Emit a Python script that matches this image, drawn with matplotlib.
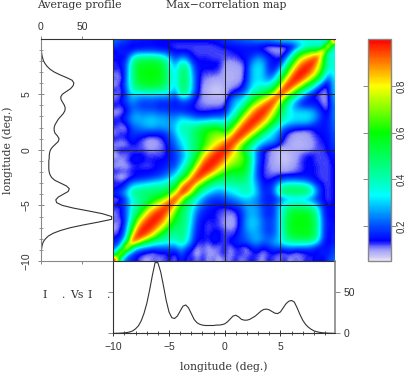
import numpy as np
import matplotlib
matplotlib.use("Agg")
import matplotlib.pyplot as plt
from matplotlib.colors import LinearSegmentedColormap

W, H = 406, 374

# average profile, every 0.25 deg from -10 to 10
longitude = np.arange(81) * 0.25 - 10
avg_profile = [0, 0, 0.1, 0.3, 0.5, 1, 1.7, 3, 5.5, 9, 15, 24, 36, 52, 70, 86, 86, 75, 58, 40,
               26, 19, 18, 21, 27, 33, 34.5, 31, 24, 17, 13, 11, 10, 9.5, 9.5, 9.5, 9.5, 10, 10, 10.5,
               11.5, 14, 17.5, 21, 22, 20, 17, 16, 16, 17, 19, 21, 24, 27, 29, 29.5, 28.5, 26.5, 24.5, 24,
               26, 31, 36, 39, 40, 38, 31, 23, 16, 11, 7.5, 5, 3, 2, 1.2, 0.7, 0.4, 0.2, 0.1, 0, 0]

# upper triangle of the correlation map in percent, one row per 0.5 deg of y
map_rows = [
    [100, 32, 20, 16, 13, 10, 9, 12, 10, 12, 14, 10, 18, 12, 14, 10, 14, 9, 12, 8, 12, 10, 14, 10, 12, 14, 12, 9, 14, 12, 10, 14, 9, 12, 10, 14, 12, 16, 12, 18, 22],
    [100, 36, 22, 16, 14, 12, 10, 14, 12, 16, 12, 22, 14, 12, 8, 12, 10, 9, 12, 14, 9, 12, 14, 10, 12, 14, 10, 12, 14, 12, 10, 14, 9, 12, 12, 15, 12, 18, 14, 20],
    [100, 52, 32, 26, 24, 22, 22, 22, 22, 22, 30, 22, 15, 10, 12, 9, 12, 10, 14, 10, 14, 12, 10, 16, 18, 14, 16, 20, 20, 22, 24, 24, 22, 22, 20, 16, 14, 15, 18],
    [100, 84, 66, 52, 42, 38, 36, 34, 34, 42, 34, 22, 12, 14, 12, 15, 14, 12, 14, 16, 18, 20, 24, 26, 22, 22, 26, 30, 38, 40, 42, 42, 42, 40, 32, 18, 12, 16],
    [100, 94, 84, 70, 54, 46, 42, 42, 46, 38, 24, 14, 14, 13, 15, 14, 12, 13, 14, 18, 22, 26, 28, 24, 20, 22, 28, 42, 52, 54, 56, 56, 54, 42, 22, 13, 16],
    [100, 96, 88, 74, 58, 48, 44, 48, 40, 26, 15, 14, 12, 14, 14, 12, 11, 12, 18, 24, 28, 26, 22, 18, 20, 28, 44, 55, 58, 58, 58, 55, 44, 22, 13, 15],
    [100, 96, 88, 76, 60, 50, 48, 42, 28, 16, 14, 12, 13, 12, 10, 9, 10, 16, 26, 30, 28, 22, 18, 20, 28, 46, 56, 58, 60, 58, 56, 44, 22, 14, 15],
    [100, 96, 86, 72, 56, 50, 44, 30, 18, 14, 13, 14, 12, 10, 9, 10, 16, 26, 30, 28, 22, 18, 20, 28, 46, 56, 58, 60, 58, 56, 44, 22, 14, 14],
    [100, 93, 80, 62, 50, 44, 32, 20, 16, 14, 14, 12, 11, 10, 11, 16, 24, 28, 26, 20, 16, 18, 28, 44, 54, 58, 58, 58, 54, 42, 20, 13, 14],
    [100, 90, 72, 54, 46, 34, 24, 18, 15, 14, 13, 12, 12, 14, 18, 26, 28, 26, 20, 16, 18, 28, 42, 50, 52, 52, 50, 48, 36, 20, 13, 14],
    [100, 85, 62, 50, 40, 28, 22, 18, 16, 15, 16, 18, 20, 22, 26, 26, 24, 18, 16, 18, 26, 34, 38, 40, 40, 38, 34, 26, 16, 13, 14],
    [100, 82, 58, 46, 34, 26, 20, 18, 18, 20, 22, 24, 28, 30, 28, 24, 18, 15, 15, 20, 26, 30, 30, 30, 28, 24, 18, 14, 12, 14],
    [100, 90, 70, 50, 38, 30, 26, 24, 26, 30, 34, 38, 40, 36, 28, 18, 16, 20, 38, 46, 48, 48, 48, 46, 38, 24, 14, 12, 14],
    [100, 88, 64, 50, 42, 34, 32, 34, 36, 36, 38, 40, 36, 26, 16, 16, 20, 38, 46, 48, 48, 48, 46, 36, 22, 14, 12, 14],
    [100, 88, 72, 56, 50, 44, 44, 44, 46, 46, 44, 34, 24, 15, 14, 16, 24, 28, 30, 30, 28, 26, 20, 14, 13, 12, 14],
    [100, 93, 80, 66, 56, 52, 50, 50, 52, 48, 34, 20, 13, 12, 12, 14, 16, 16, 16, 16, 15, 14, 13, 12, 12, 14],
    [100, 96, 88, 76, 66, 60, 58, 58, 54, 36, 20, 13, 11, 10, 10, 9, 10, 11, 12, 14, 14, 13, 12, 12, 14],
    [100, 96, 88, 78, 70, 66, 64, 56, 38, 20, 13, 11, 9, 9, 8, 9, 10, 12, 14, 14, 13, 12, 12, 14],
    [100, 96, 88, 78, 72, 68, 60, 40, 22, 14, 11, 9, 8, 7, 8, 9, 12, 14, 14, 12, 12, 12, 15],
    [100, 95, 85, 76, 70, 58, 38, 22, 14, 11, 9, 8, 7, 8, 9, 11, 13, 14, 12, 12, 13, 15],
    [100, 93, 80, 64, 50, 36, 24, 15, 12, 9, 8, 8, 9, 9, 9, 9, 10, 12, 12, 14, 18],
    [100, 90, 74, 58, 46, 34, 26, 22, 20, 14, 11, 9, 8, 8, 9, 9, 12, 13, 14, 18],
    [100, 92, 78, 60, 46, 36, 30, 28, 20, 12, 10, 9, 9, 9, 10, 12, 14, 14, 20],
    [100, 93, 82, 66, 50, 38, 30, 24, 15, 11, 9, 9, 9, 11, 14, 14, 15, 20],
    [100, 94, 84, 70, 54, 40, 30, 22, 18, 16, 15, 14, 14, 15, 15, 15, 22],
    [100, 94, 86, 72, 56, 44, 34, 30, 28, 28, 28, 24, 18, 15, 15, 22],
    [100, 94, 84, 68, 52, 40, 34, 32, 32, 32, 30, 24, 16, 14, 24],
    [100, 92, 78, 60, 44, 34, 30, 30, 30, 28, 22, 15, 12, 24],
    [100, 88, 68, 50, 34, 24, 20, 18, 18, 16, 12, 10, 24],
    [100, 82, 60, 44, 28, 20, 14, 14, 14, 10, 10, 26],
    [100, 85, 62, 48, 34, 22, 14, 12, 10, 10, 28],
    [100, 90, 72, 54, 40, 28, 16, 11, 11, 30],
    [100, 93, 80, 64, 50, 34, 18, 12, 30],
    [100, 96, 86, 72, 56, 38, 18, 32],
    [100, 96, 88, 74, 52, 28, 34],
    [100, 94, 82, 62, 36, 36],
    [100, 88, 68, 40, 36],
    [100, 66, 38, 36],
    [100, 40, 34],
    [100, 36],
    [100],
]

cbar_ticks = [0.2, 0.4, 0.6, 0.8]

n = len(map_rows)
corr = np.zeros((n, n))
for i, row in enumerate(map_rows):
    corr[i, i:] = np.array(row) / 100
    corr[i:, i] = np.array(row) / 100

cmap = LinearSegmentedColormap.from_list("corr", [
    (0.0, "#e8e4f4"), (0.05, "#9a9af8"), (0.09, "#0000ff"), (0.16, "#0050ff"),
    (0.295, "#00ffff"), (0.37, "#00ffb0"), (0.58, "#00ff00"), (0.79, "#ffff00"),
    (1.0, "#ff0000")])

plt.rcParams["font.family"] = ["Liberation Sans", "DejaVu Sans"]
plt.rcParams["font.size"] = 7.5
ink = "#333333"
grey = "#888888"


def add_axes(fig, x0, y0, x1, y1):
    # box given in image pixels, y downwards
    return fig.add_axes([x0 / W, 1 - y1 / H, (x1 - x0) / W, (y1 - y0) / H])


fig = plt.figure(figsize=(W / 100, H / 100), dpi=100)

# map
ax = add_axes(fig, 113.3, 39.3, 335, 261)
im = ax.imshow(corr, origin="lower", extent=[-10, 10, -10, 10], cmap=cmap,
               vmin=0.05, vmax=1.0, interpolation="bicubic", aspect="auto")
ax.set_xlim(-10, 9.9)
ax.set_ylim(-10, 9.94)
for v in [-5, 0, 5]:
    ax.axvline(v, color="#222222", lw=0.7)
    ax.axhline(v, color="#222222", lw=0.7)
ax.set_xticks([])
ax.set_yticks([])
for s in ax.spines.values():
    s.set_linewidth(0.8)
    s.set_color(ink)
ax.spines["right"].set_visible(False)

# left profile
axl = add_axes(fig, 41, 39.3, 113.3, 261)
axl.plot(avg_profile, longitude, color=ink, lw=0.8)
axl.set_xlim(0, 88)
axl.set_ylim(-10, 9.94)
axl.spines["right"].set_visible(False)
axl.spines["left"].set_color(grey)
axl.spines["bottom"].set_color(grey)
axl.spines["top"].set_color(ink)
axl.set_xticks([0, 50])
axl.xaxis.set_ticks_position("both")
axl.tick_params(axis="x", top=True, bottom=True, labeltop=True, labelbottom=False,
                length=2.5, width=0.7, color=grey, pad=2.5, labelcolor=ink)
axl.set_yticks([-10, -5, 0, 5])
axl.set_yticks(np.arange(-10, 10), minor=True)
axl.tick_params(axis="y", which="major", direction="inout", length=5, width=0.7, color=grey, pad=4, labelcolor=ink)
axl.tick_params(axis="y", which="minor", direction="inout", length=2.5, width=0.6, color=grey)
for t in axl.get_yticklabels():
    t.set_rotation(90)
    t.set_va("center")
axl.patch.set_alpha(0)

# bottom profile
axb = add_axes(fig, 113.3, 261, 335, 333.3)
axb.plot(longitude, avg_profile, color=ink, lw=0.8)
axb.set_xlim(-10, 9.9)
axb.set_ylim(0, 88)
axb.spines["top"].set_visible(False)
axb.spines["right"].set_color(grey)
axb.spines["right"].set_linewidth(1.2)
axb.spines["left"].set_color(ink)
axb.spines["bottom"].set_color(ink)
axb.set_xticks([-10, -5, 0, 5])
axb.set_xticks(np.arange(-10, 10), minor=True)
axb.tick_params(axis="x", which="major", direction="inout", length=5, width=0.7, color=ink, pad=4, labelcolor=ink)
axb.tick_params(axis="x", which="minor", direction="inout", length=2.5, width=0.6, color=ink)
axb.set_yticks([0, 50])
axb.yaxis.set_ticks_position("both")
axb.tick_params(axis="y", left=True, right=True, labelleft=False, labelright=True,
                length=3.5, width=0.7, color=grey, pad=3, labelcolor=ink)
axb.patch.set_alpha(0)

# colour bar
cax = add_axes(fig, 368.3, 39.3, 390.7, 261)
cb = fig.colorbar(im, cax=cax)
cb.set_ticks(cbar_ticks)
cb.outline.set_edgecolor(grey)
cb.outline.set_linewidth(1.0)
cax.tick_params(axis="y", left=True, right=True, labelright=True, length=3.5, width=0.7,
                color=grey, pad=1, labelcolor=ink, labelsize=7)
for t in cax.get_yticklabels():
    t.set_rotation(90)
    t.set_va("center")

# texts, roman style used by the original plot
serif = {"family": "DejaVu Serif", "size": 7.8, "color": ink}
fig.text(37 / W, 1 - 5 / H, "Average profile", va="center", ha="left", **serif)
fig.text(166 / W, 1 - 5 / H, "Max\u2212correlation map", va="center", ha="left", **serif)
fig.text(224 / W, 1 - 367 / H, "longitude (deg.)", va="center", ha="center", **serif)
fig.text(8 / W, 1 - 150 / H, "longitude (deg.)", va="center", ha="center", rotation=90, **serif)
fig.text(45 / W, 1 - 295 / H, "I", va="center", ha="center", **serif)
fig.text(64 / W, 1 - 295 / H, ".", va="center", ha="center", **serif)
fig.text(77 / W, 1 - 295 / H, "Vs", va="center", ha="center", **serif)
fig.text(90 / W, 1 - 295 / H, "I", va="center", ha="center", **serif)
fig.text(109 / W, 1 - 295 / H, ".", va="center", ha="center", **serif)

fig.savefig("out.png", dpi=100)
